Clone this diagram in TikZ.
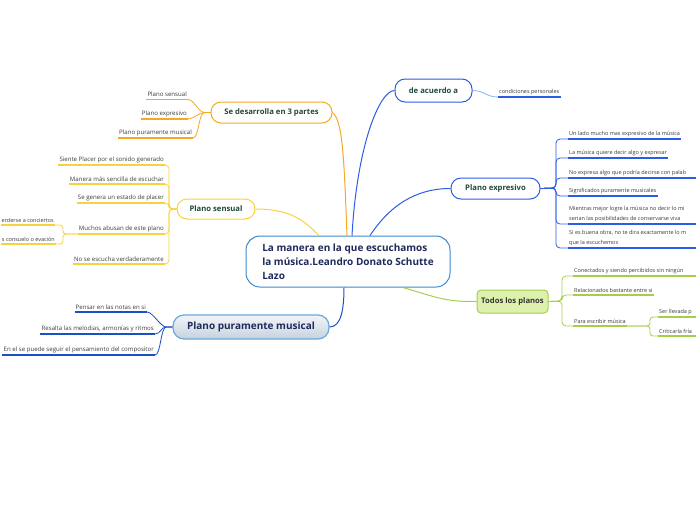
\documentclass[tikz,border=0pt]{standalone}
\usepackage{fontspec}
\setmainfont{Open Sans}
\usetikzlibrary{positioning}
\definecolor{naranja}{HTML}{F6A823}
\definecolor{amarillo}{HTML}{F8D23C}
\definecolor{azul}{HTML}{2B5CE6}
\definecolor{azulclaro}{HTML}{8EAEF2}
\definecolor{azulosc}{HTML}{1D4FC4}
\definecolor{verde}{HTML}{A5CE49}
\definecolor{verdefondo}{HTML}{DDF0AE}
\definecolor{textorama}{HTML}{22483C}
\definecolor{textohoja}{HTML}{3A3A3A}
\definecolor{bordecentro}{HTML}{3B89CC}
\definecolor{bordegris}{HTML}{6AA8DC}
\definecolor{grisarriba}{HTML}{F2F5F8}
\definecolor{grisabajo}{HTML}{C6D2DE}
\definecolor{marino}{HTML}{1E2B5A}

\begin{document}
\begin{tikzpicture}[x=1pt,y=-1pt,
  caja/.style={draw,rounded corners=10pt,line width=1pt,fill=white,inner sep=0pt,
    font=\fontsize{7.7}{9}\selectfont\bfseries,text=textorama},
  hoja/.style={font=\fontsize{5.5}{9.5}\selectfont,text=textohoja,inner xsep=1pt,
    inner ysep=2.3pt,align=left},
  hojaizq/.style={hoja,font=\fontsize{6.1}{10}\selectfont},
  rama/.style={line width=0.8pt},
  tronco/.style={line width=1pt},
  raya/.style={line width=1.4pt}]
\useasboundingbox (0,0) rectangle (696,520);
\coordinate (margen) at (700,0);

% nodo central
\node[draw=bordecentro,fill=white,line width=1pt,rounded corners=14pt,
  minimum width=204pt,minimum height=51pt,align=left,text=marino,
  font=\fontsize{10}{14}\selectfont\bfseries] (centro) at (348,261.5)
  {La manera en la que escuchamos\\la música.Leandro Donato Schutte\\Lazo};

% ramas de la izquierda
\node[caja,draw=naranja,minimum width=121pt,minimum height=21pt] (desa) at (271.5,112.5) {Se desarrolla en 3 partes};
\node[hojaizq,anchor=south east] (desa1) at (188,99.5) {Plano sensual};
\node[hojaizq,anchor=south east] (desa2) at (188,119) {Plano expresivo};
\node[hojaizq,anchor=south east] (desa3) at (193,138) {Plano puramente musical};

\node[caja,draw=amarillo,minimum width=78pt,minimum height=20pt] (sens) at (216,209) {Plano sensual};
\node[hojaizq,anchor=south east] (sens1) at (165,165) {Siente Placer por el sonido generado};
\node[hojaizq,anchor=south east] (sens2) at (165,184) {Manera más sencilla de escuchar};
\node[hojaizq,anchor=south east] (sens3) at (165,203) {Se genera un estado de placer};
\node[hojaizq,anchor=south east] (sens4) at (165,234) {Muchos abusan de este plano};
\node[hojaizq,anchor=south east] (sens5) at (165,264) {No se escucha verdaderamente};
\node[hoja,anchor=south east] (sensa) at (55,225) {erderse a conciertos};
\node[hoja,anchor=south east] (sensb) at (56,244) {s consuelo o evación};

\node[caja,draw=bordegris,line width=1.2pt,rounded corners=11pt,top color=grisarriba,bottom color=grisabajo,
  minimum width=156pt,minimum height=24pt,text=marino,font=\fontsize{10}{11}\selectfont\bfseries] (pmus) at (251,327) {Plano puramente musical};
\node[hojaizq,anchor=south east] (pmus1) at (147,312) {Pensar en las notas en si};
\node[hojaizq,anchor=south east] (pmus2) at (155,334) {Resalta las melodias, armonías y ritmos};
\node[hojaizq,anchor=south east] (pmus3) at (155,355) {En el se puede seguir el pensamiento del compositor};

% ramas de la derecha
\node[caja,draw=azul,minimum width=77pt,minimum height=23pt] (acu) at (433.5,90.5) {de acuerdo a};
\node[hoja,anchor=south west] (cond) at (498,97) {condiciones personales};

\node[caja,draw=azul,minimum width=89pt,minimum height=21pt] (expr) at (495.5,188.5) {Plano expresivo};
\node[hoja,anchor=south west] (expr1) at (568,139) {Un lado mucho mas expresivo de la música};
\node[hoja,anchor=south west] (expr2) at (568,158) {La música quiere decir algo y expresar};
\node[hoja,anchor=south west] (expr3) at (568,178) {No expresa algo que podría decirse con palab};
\node[hoja,anchor=south west] (expr4) at (568,196) {Significados puramente musicales};
\node[hoja,anchor=south west] (expr5) at (568,224) {Mientras mejor logre la música no decir lo mi\\serian las posibilidades de conservarse viva};
\node[hoja,anchor=south west] (expr6) at (568,248) {Si es buena obra, no te dira exactamente lo m\\que la escuchemos};

\node[caja,draw=verde,fill=verdefondo,rounded corners=4pt,minimum width=71pt,minimum height=23pt,text=black!80] (todos) at (512.5,301.5) {Todos los planos};
\node[hoja,anchor=south west] (todos1) at (573,276) {Conectados y siendo percibidos sin ningún};
\node[hoja,anchor=south west] (todos2) at (573,295) {Relacionados bastante entre si};
\node[hoja,anchor=south west] (todos3) at (573,326) {Para escribir música};
\node[hoja,anchor=south west] (todosa) at (658,317) {Ser llevada p};
\node[hoja,anchor=south west] (todosb) at (658,336) {Criticarla fría};

% conexiones con el centro
\draw[tronco,naranja] ([xshift=-1pt]centro.north) .. controls +(-3,-80) and +(10,8) .. (desa.east);
\draw[tronco,amarillo] (sens.east) .. controls +(35,0) and +(-15,-15) .. ([xshift=-29pt]centro.north);
\draw[tronco,azulosc] (pmus.east) .. controls +(12,0) and +(0,20) .. ([xshift=-4pt]centro.south);
\draw[tronco,azul] ([xshift=4pt]centro.north) .. controls +(5,-90) and +(-15,0) .. (acu.west);
\draw[tronco,azul] ([xshift=22pt]centro.north) .. controls +(20,-30) and +(-35,0) .. (expr.west);
\draw[tronco,verde] ([xshift=55pt]centro.south) .. controls +(40,12) and +(-30,0) .. (todos.west);

% hojas
\foreach \n in {desa1,desa2,desa3} {
  \draw[raya,naranja] (\n.south west) -- (\n.south east);
  \draw[rama,naranja] (desa.west) -- ++(-6,0) .. controls +(-6,0) and +(6,0) .. (\n.south east);
}
\foreach \n in {sens1,sens2,sens3,sens4,sens5} {
  \draw[raya,amarillo] (\n.south west) -- (\n.south east);
  \draw[rama,amarillo,rounded corners=4pt] (sens.west) -- (169,209) |- (\n.south east);
}
\foreach \n in {sensa,sensb} {
  \draw[raya,amarillo] (\n.south west) -- (\n.south east);
  \draw[rama,amarillo,rounded corners=3pt] (sens4.south west) -- (63,234) |- (\n.south east);
}
\foreach \n in {pmus1,pmus2,pmus3} {
  \draw[raya,azulosc] (\n.south west) -- (\n.south east);
  \draw[rama,azulosc] (pmus.west) -- ++(-6,0) .. controls +(-6,0) and +(6,0) .. (\n.south east);
}
\draw[raya,azul] (cond.south west) -- (cond.south east);
\draw[rama,azulclaro] (acu.east) .. controls +(12,0) and +(-12,0) .. (cond.south west);
\foreach \n in {expr1,expr2,expr4} {
  \draw[raya,azul] (\n.south west) -- (\n.south east);
}
\foreach \n in {expr3,expr5,expr6} {
  \draw[raya,azul] (\n.south west) -- (\n.south west -| margen);
}
\foreach \n in {expr1,expr2,expr3,expr4,expr5,expr6} {
  \draw[rama,azul,rounded corners=4pt] (expr.east) -- (556,188) |- (\n.south west);
}
\draw[raya,verde] (todos1.south west) -- (todos1.south west -| margen);
\foreach \n in {todos2,todos3} {
  \draw[raya,verde] (\n.south west) -- (\n.south east);
}
\foreach \n in {todos1,todos2,todos3} {
  \draw[rama,verde,rounded corners=4pt] (todos.east) -- (562,301) |- (\n.south west);
}
\foreach \n in {todosa,todosb} {
  \draw[raya,verde] (\n.south west) -- (\n.south west -| margen);
  \draw[rama,verde,rounded corners=3pt] (todos3.south east) -- (650,326) |- (\n.south west);
}
\end{tikzpicture}
\end{document}
